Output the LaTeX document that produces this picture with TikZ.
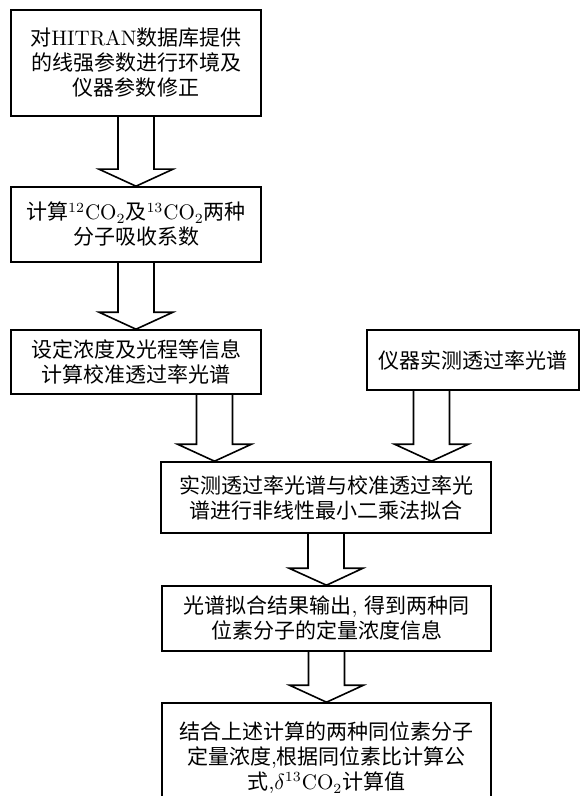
\documentclass[tikz,border=0pt]{standalone}
\usepackage{amsmath, amssymb}
\usepackage{fontspec}
\newfontfamily\cjk{Noto Sans CJK SC}
\newcommand{\zh}[1]{{\cjk #1}}
\usepackage{tikz}
\usetikzlibrary{calc}

\begin{document}
\begin{tikzpicture}[x=0.5pt, y=-0.5pt,
	box/.style={shape=rectangle, draw=black, line width=0.8pt, align=center, inner sep=0pt, font=\fontsize{10.5}{12.5}\selectfont},
	fat/.style={draw=black, line width=0.8pt, to path={let \p1=(\tikztostart), \p2=(\tikztotarget) in
		(\x1-9pt,\y1) -- (\x1-9pt,\y2+8.5pt) -- (\x1-18.5pt,\y2+8.5pt) -- (\x2,\y2)
		-- (\x1+18.5pt,\y2+8.5pt) -- (\x1+9pt,\y2+8.5pt) -- (\x1+9pt,\y1)}}]
	\useasboundingbox (0,0) rectangle (580,796);

	\node[box, minimum width=125pt, minimum height=53pt] (B1) at (136, 63) {\zh{对}HITRAN\zh{数据库提供}\\ \zh{的线强参数进行环境及}\\ \zh{仪器参数修正}};
	\node[box, minimum width=125pt, minimum height=37.5pt] (B2) at (136, 224.5) {\zh{计算}$^{12}$CO$_2$\zh{及}$^{13}$CO$_2$\zh{两种}\\ \zh{分子吸收系数}};
	\node[box, minimum width=125pt, minimum height=32pt] (B3) at (136, 362) {\zh{设定浓度及光程等信息}\\ \zh{计算校准透过率光谱}};
	\node[box, minimum width=106pt, minimum height=30pt] (R) at (473, 360) {\zh{仪器实测透过率光谱}};
	\node[box, minimum width=165pt, minimum height=35.5pt] (B4) at (326, 497.5) {\zh{实测透过率光谱与校准透过率光}\\ \zh{谱进行非线性最小二乘法拟合}};
	\node[box, minimum width=164.5pt, minimum height=32.5pt] (B5) at (326.5, 618.5) {\zh{光谱拟合结果输出}, \zh{得到两种同}\\ \zh{位素分子的定量浓度信息}};
	\node[box, minimum width=164.5pt, minimum height=55pt] (B6) at (326.5, 758) {\zh{结合上述计算的两种同位素分子}\\ \zh{定量浓度},\zh{根据同位素比计算公}\\ \zh{式},$\delta^{13}$CO$_2$\zh{计算值}};

	\coordinate (c3) at (214.5, 428);
	\coordinate (c4) at (431.5, 426);

	\draw[fat] (B1.south) to (B2.north);
	\draw[fat] (B2.south) to (B3.north);
	\draw[fat] (B3.south -| c3) to (B4.north -| c3);
	\draw[fat] (R.south -| c4) to (B4.north -| c4);
	\draw[fat] (B4.south) to (B5.north);
	\draw[fat] (B5.south) to (B6.north);
\end{tikzpicture}
\end{document}
